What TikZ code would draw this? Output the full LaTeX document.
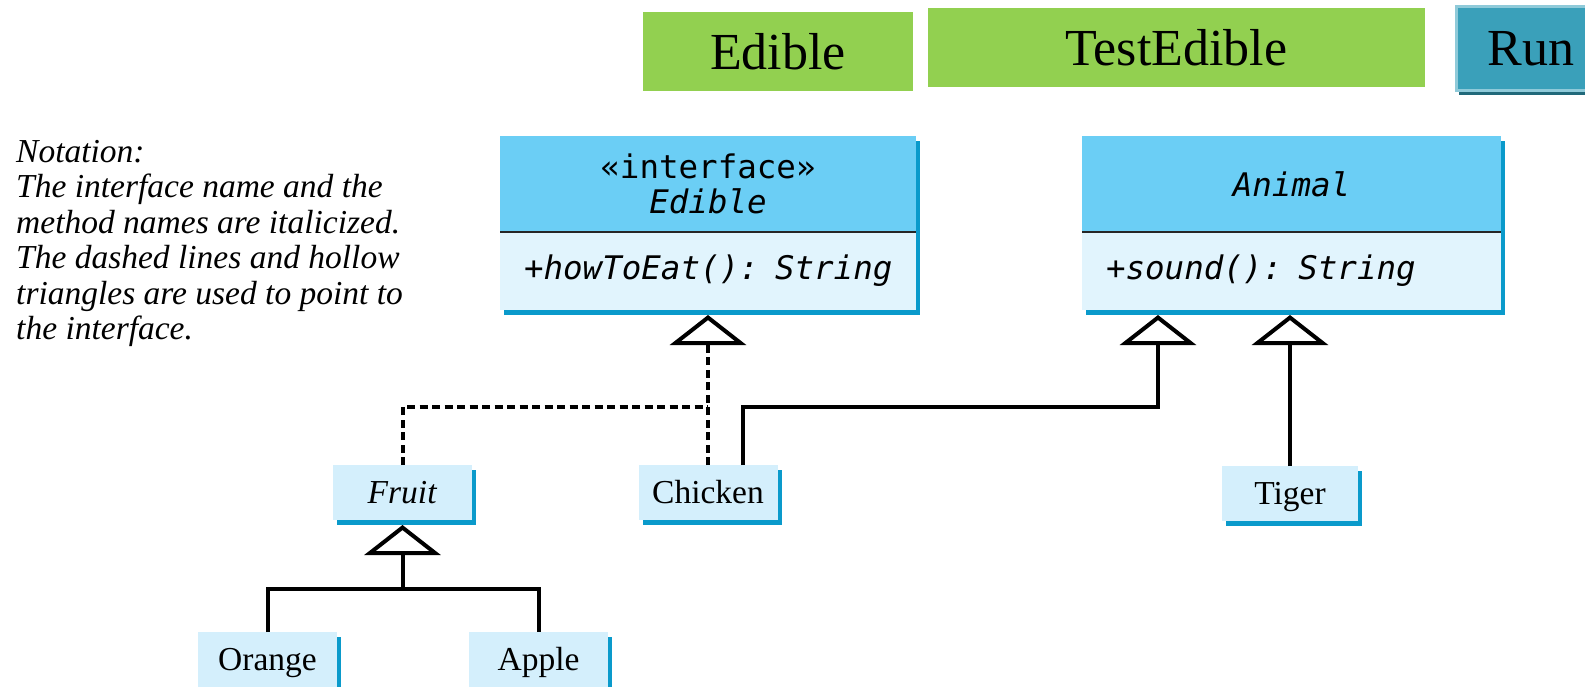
\documentclass[tikz,border=0pt]{standalone}
\usepackage{fontspec}
\setmainfont{Liberation Serif}
\newfontfamily\umlfont{DejaVu Sans Mono}
\usepackage{tikz}
\usetikzlibrary{arrows.meta,positioning,shadows}
\definecolor{headblue}{HTML}{6BCEF5}
\definecolor{bodyblue}{HTML}{E1F4FD}
\definecolor{boxblue}{HTML}{D4EFFC}
\definecolor{shadowblue}{HTML}{0A9ACB}
\definecolor{btngreen}{HTML}{92D050}
\definecolor{runteal}{HTML}{3AA0BA}
\definecolor{runlight}{HTML}{8FCAD9}
\definecolor{rundark}{HTML}{21697A}

\begin{document}
\begin{tikzpicture}[x=1pt,y=-1pt,
  umlshadow/.style={drop shadow={shadow xshift=4pt,shadow yshift=-5pt,fill=shadowblue,opacity=1}},
  umlhead/.style={fill=headblue,umlshadow,inner sep=0pt,outer sep=0pt,align=center,
    minimum height=96pt,font=\umlfont\fontsize{32.5}{35}\selectfont},
  umlbody/.style={fill=bodyblue,umlshadow,inner xsep=24pt,inner ysep=0pt,outer sep=0pt,
    align=left,minimum height=78pt,font=\umlfont\fontsize{32.5}{35}\selectfont},
  classbox/.style={fill=boxblue,umlshadow,minimum width=139pt,minimum height=55pt,
    inner sep=0pt,outer sep=0pt,text height=25pt,text depth=4pt,
    font=\fontsize{33.5}{40}\selectfont},
  btn/.style={fill=btngreen,minimum height=79pt,inner sep=0pt,outer sep=0pt,
    font=\fontsize{52}{60}\selectfont},
  extline/.style={line width=4pt},
  implline/.style={line width=4pt,dash pattern=on 8pt off 4.5pt},
  hollow/.style={-{Triangle[open,length=30pt,width=76pt]}}
]
\useasboundingbox (0,0) rectangle (1585,687);

% buttons
\node[btn,minimum width=270pt] (btnedible) at (778,51.5) {Edible};
\node[btn,minimum width=497pt] (btntest) at (1176.5,48) {TestEdible};
\node[fill=runteal,draw=runlight,line width=3pt,minimum width=150pt,minimum height=84pt,
  inner sep=0pt,drop shadow={shadow xshift=3pt,shadow yshift=-4pt,fill=rundark,opacity=1},
  font=\fontsize{52}{60}\selectfont] (btnrun) at (1531,49) {Run};

\node[anchor=north west,inner sep=0pt,align=left,
  font=\itshape\fontsize{33.5}{35.5}\selectfont] (notation) at (16,140)
  {Notation:\\The interface name and the\\method names are italicized.\\
   The dashed lines and hollow\\triangles are used to point to\\the interface.};

% interface and abstract class
\node[umlhead,minimum width=416pt] (edible) at (708,184) {«interface»\\\textit{Edible}};
\node[umlbody,text width=368pt,below=0pt of edible] (edibleops) {\mbox{\textit{+howToEat(): String}}};
\draw[line width=2pt,black!85] (edible.south west) -- (edible.south east);

\node[umlhead,minimum width=419pt] (animal) at (1291.5,184) {\textit{Animal}};
\node[umlbody,text width=371pt,below=0pt of animal] (animalops) {\mbox{\textit{+sound(): String}}};
\draw[line width=2pt,black!85] (animal.south west) -- (animal.south east);

% classes
\node[classbox] (fruit) at (402.5,492.5) {\textit{Fruit}};
\node[classbox] (chicken) at (708,492.5) {Chicken};
\node[classbox,minimum width=136pt] (tiger) at (1290,493.5) {Tiger};
\node[classbox] (orange) at (267.5,659.5) {Orange};
\node[classbox] (apple) at (538.5,659.5) {Apple};

\coordinate (ejoin) at (708,407);
\coordinate (ajoin) at (1158,407);
\coordinate (fjoin) at (402.5,589);

\draw[implline] (fruit.north) |- (ejoin);
\draw[implline,hollow] (chicken.north) -- ([yshift=-5pt]edibleops.south);
\draw[extline,hollow] ([xshift=35pt]chicken.north) |- (ajoin) -- ([yshift=-5pt]ajoin |- animalops.south);
\draw[extline,hollow] (tiger.north) -- ([yshift=-5pt]tiger.north |- animalops.south);
\draw[extline] (orange.north) |- (fjoin) -| (apple.north);
\draw[extline,hollow] (fjoin) -- ([yshift=-5pt]fruit.south);
\end{tikzpicture}
\end{document}
